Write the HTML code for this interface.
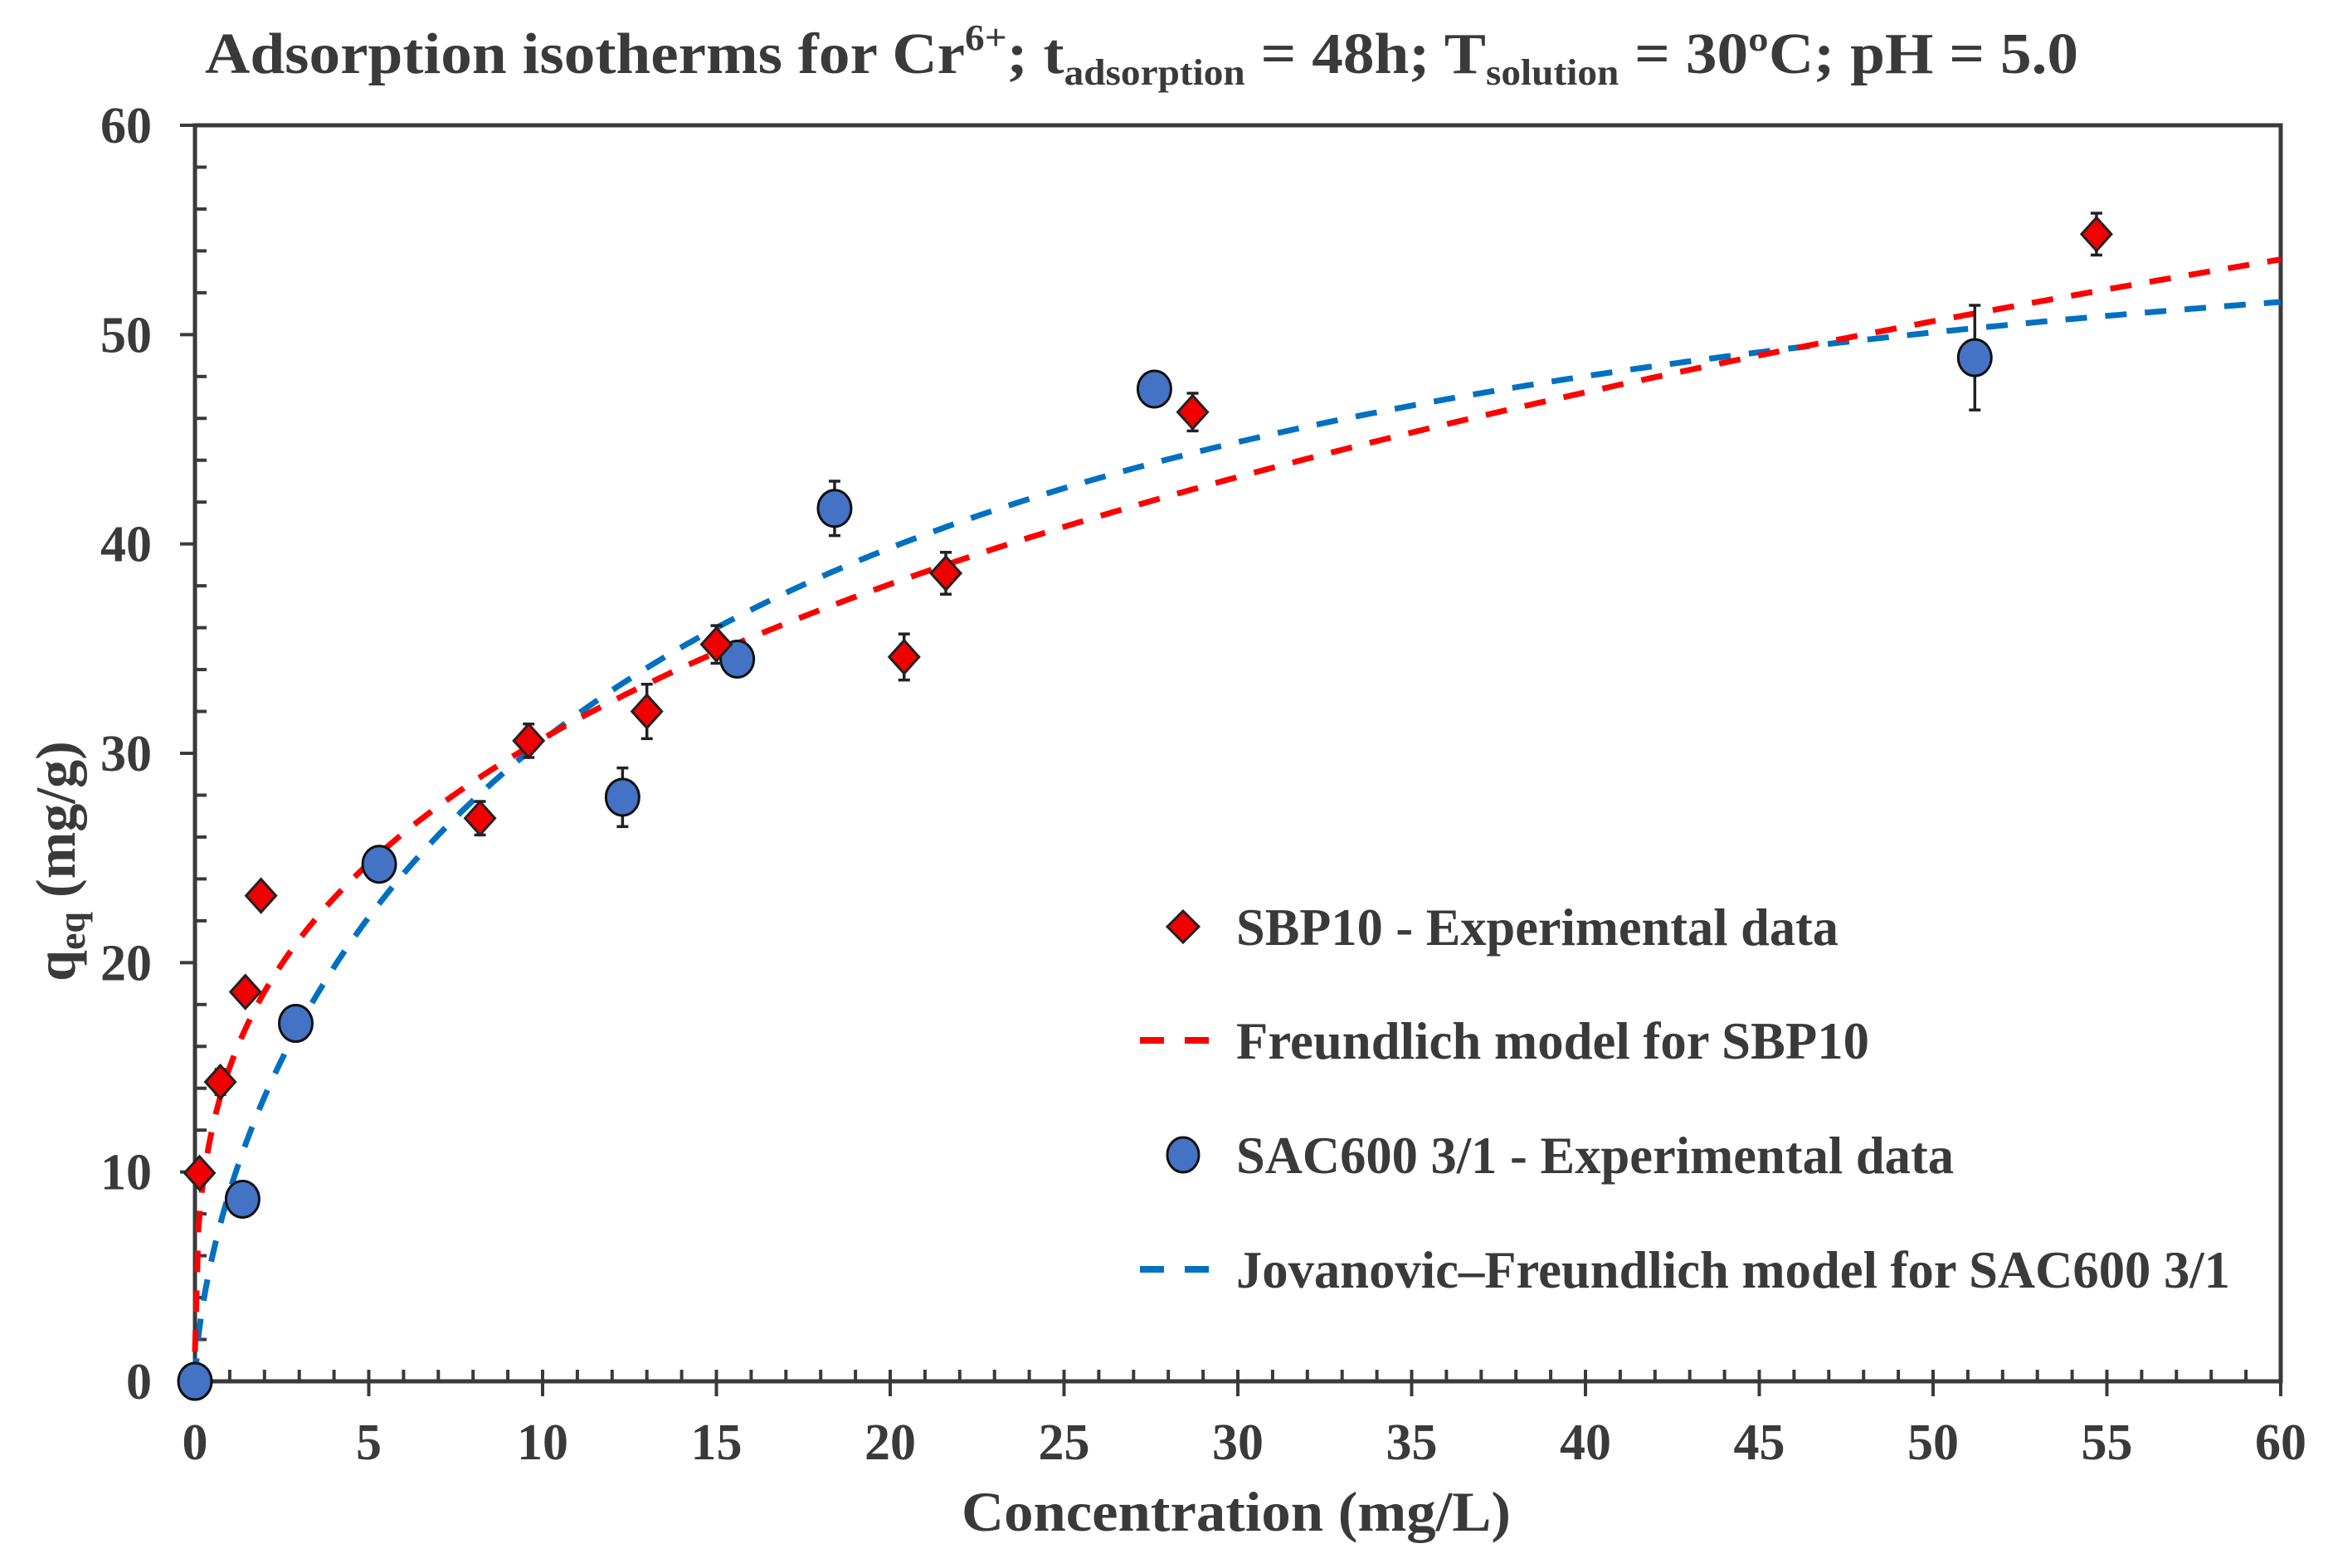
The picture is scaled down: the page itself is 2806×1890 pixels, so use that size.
<!DOCTYPE html>
<html><head><meta charset="utf-8"><style>html,body{margin:0;padding:0;background:#fff}svg{display:block}text{font-family:"Liberation Serif",serif;font-weight:bold;fill:#3a3a3a}</style></head>
<body>
<svg id="chart" width="2806" height="1890" viewBox="0 0 2806 1890" xmlns="http://www.w3.org/2000/svg">
<text x="247" y="88" font-size="70" textLength="2258" lengthAdjust="spacingAndGlyphs">Adsorption isotherms for Cr<tspan font-size="44" dy="-28">6+</tspan><tspan dy="28">; t</tspan><tspan font-size="44" dy="14">adsorption</tspan><tspan dy="-14"> = 48h; T</tspan><tspan font-size="44" dy="14">solution</tspan><tspan dy="-14"> = 30ºC; pH = 5.0</tspan></text>
<g id="axes"></g>
<g id="curves"></g>
<g id="points"></g>
<text x="1490" y="1845" font-size="68" text-anchor="middle" textLength="662" lengthAdjust="spacingAndGlyphs">Concentration (mg/L)</text>
<text transform="translate(90,1038) rotate(-90)" font-size="68" text-anchor="middle">q<tspan font-size="46" dy="12">eq</tspan><tspan dy="-12"> (mg/g)</tspan></text>
<g>
<path d="M1426,1098 L1445,1117 L1426,1136 L1407,1117 Z" fill="#f00000" stroke="#222" stroke-width="3"/>
<text x="1490" y="1139" font-size="63" textLength="726" lengthAdjust="spacingAndGlyphs">SBP10 - Experimental data</text>
<line x1="1374" y1="1254" x2="1458" y2="1254" stroke="#ff0000" stroke-width="8" stroke-dasharray="29,25"/>
<text x="1490" y="1276" font-size="63" textLength="763" lengthAdjust="spacingAndGlyphs">Freundlich model for SBP10</text>
<ellipse cx="1426" cy="1392" rx="19" ry="21" fill="#4472c4" stroke="#111" stroke-width="3"/>
<text x="1490" y="1414" font-size="63" textLength="865" lengthAdjust="spacingAndGlyphs">SAC600 3/1 - Experimental data</text>
<line x1="1374" y1="1530" x2="1458" y2="1530" stroke="#0070c0" stroke-width="8" stroke-dasharray="29,25"/>
<text x="1490" y="1552" font-size="63" textLength="1198" lengthAdjust="spacingAndGlyphs">Jovanovic–Freundlich model for SAC600 3/1</text>
</g>
</svg>
<script>
const xTicks=[0,5,10,15,20,25,30,35,40,45,50,55,60];
const yTicks=[0,10,20,30,40,50,60];
const sbpC=[0.13,0.73,1.45,1.9,8.2,9.6,13.0,15.0,20.4,21.6,28.7,54.7];
const sbpQ=[9.95,14.3,18.6,23.2,26.9,30.6,32.0,35.2,34.6,38.6,46.3,54.8];
const sbpErr=[0.5,0.6,0.5,0.5,0.8,0.8,1.3,0.9,1.1,1.0,0.9,1.0];
const sacC=[0,1.37,2.9,5.3,12.3,15.6,18.4,27.6,51.2];
const sacQ=[0,8.7,17.1,24.7,27.9,34.5,41.7,47.4,48.9];
const sacErr=[0,0,0,0,1.4,0,1.3,0,2.5];
const freundlichParams=[15.0,0.311];
const jovanovicParams=[56.0,0.0697,0.65];
const X0=235,X1=2749,Y0=1665,Y1=151;
const sx=v=>X0+(X1-X0)*v/60, sy=v=>Y0-(Y0-Y1)*v/60;
const NS="http://www.w3.org/2000/svg";
function mk(t,a,p){const e=document.createElementNS(NS,t);for(const k in a)e.setAttribute(k,a[k]);p.appendChild(e);return e;}
const ax=document.getElementById('axes');
const frame=mk('rect',{x:X0,y:Y1,width:X1-X0,height:Y0-Y1,fill:'none',stroke:'#3a3a3a','stroke-width':5},ax);


for(let i=1;i<60;i++){if(i%5)mk('line',{x1:sx(i),x2:sx(i),y1:Y0,y2:Y0-14,stroke:'#3a3a3a','stroke-width':4},ax);}
for(let i=2;i<60;i+=2){if(i%10)mk('line',{x1:X0,x2:X0+14,y1:sy(i),y2:sy(i),stroke:'#3a3a3a','stroke-width':4},ax);}
xTicks.forEach(v=>{mk('line',{x1:sx(v),x2:sx(v),y1:Y0-14,y2:Y0+18,stroke:'#3a3a3a','stroke-width':4},ax);
const t=mk('text',{x:sx(v),y:1759,'font-size':62,'text-anchor':'middle'},ax);t.textContent=v;

});
yTicks.forEach(v=>{mk('line',{x1:X0-18,x2:X0,y1:sy(v),y2:sy(v),stroke:'#3a3a3a','stroke-width':4},ax);
const t=mk('text',{x:183,y:sy(v)+21,'font-size':62,'text-anchor':'end'},ax);t.textContent=v;

});
const cv=document.getElementById('curves');
let d1='',d2='';
for(let i=0;i<=600;i++){const c=0.0005+i*0.1;
const q1=freundlichParams[0]*Math.pow(c,freundlichParams[1]);
const q2=jovanovicParams[0]*(1-Math.exp(-Math.pow(jovanovicParams[1]*c,jovanovicParams[2])));
d1+=(i?'L':'M')+sx(c).toFixed(1)+','+sy(q1).toFixed(1);
d2+=(i?'L':'M')+sx(c).toFixed(1)+','+sy(q2).toFixed(1);}
const p2=mk('path',{d:d2,fill:'none',stroke:'#0070c0','stroke-width':7,'stroke-dasharray':'26,22'},cv);


const p1=mk('path',{d:d1,fill:'none',stroke:'#ff0000','stroke-width':7,'stroke-dasharray':'26,22'},cv);


const pts=document.getElementById('points');
function err(c,q,e){if(!e)return;const x=sx(c),a=sy(q+e),b=sy(q-e);
mk('line',{x1:x,x2:x,y1:a,y2:b,stroke:'#222','stroke-width':3.5},pts);
mk('line',{x1:x-7,x2:x+7,y1:a,y2:a,stroke:'#222','stroke-width':3.5},pts);
mk('line',{x1:x-7,x2:x+7,y1:b,y2:b,stroke:'#222','stroke-width':3.5},pts);}
sacC.forEach((c,i)=>{err(c,sacQ[i],sacErr[i]);
const e=mk('ellipse',{cx:sx(c),cy:sy(sacQ[i]),rx:20,ry:22,fill:'#4472c4',stroke:'#111','stroke-width':3},pts);

});
sbpC.forEach((c,i)=>{err(c,sbpQ[i],sbpErr[i]);const x=sx(c),y=sy(sbpQ[i]);
const e=mk('path',{d:`M${x},${y-20}L${x+18},${y}L${x},${y+20}L${x-18},${y}Z`,fill:'#f00000',stroke:'#222','stroke-width':3},pts);

});
</script>
</body></html>
